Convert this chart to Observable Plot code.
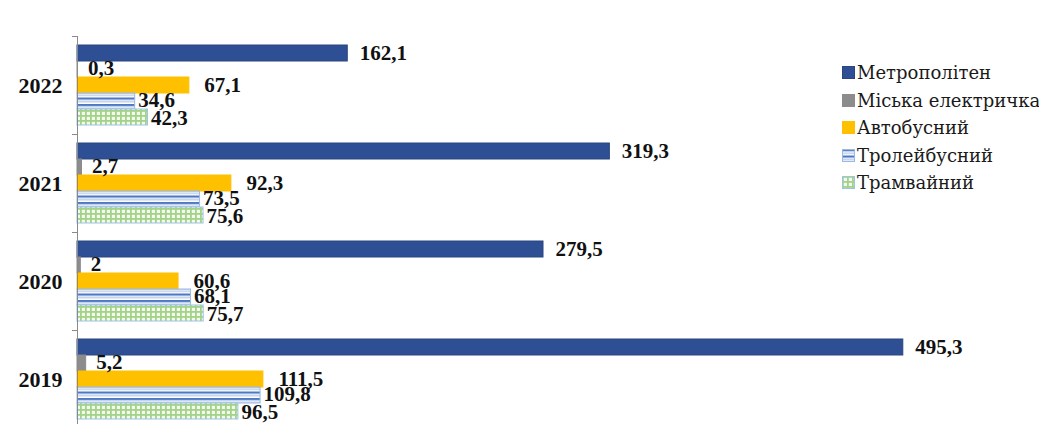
<!DOCTYPE html>
<html>
<head>
<meta charset="utf-8">
<script src="https://cdn.jsdelivr.net/npm/d3@7"></script>
<script src="https://cdn.jsdelivr.net/npm/@observablehq/plot@0.6"></script>
<style>
  body { margin: 0; background: #fff; }
  #wrap { position: relative; width: 1039px; height: 424px; }
</style>
</head>
<body>
<svg width="0" height="0" style="position:absolute">
  <defs>
    <pattern id="pTrolley" patternUnits="userSpaceOnUse" width="6" height="6.5">
      <rect width="6" height="6.5" fill="#ffffff"></rect>
      <rect y="0" width="6" height="2.2" fill="#4f78c4"></rect>
      <rect y="3.4" width="6" height="1.6" fill="#bcd0ee"></rect>
    </pattern>
    <pattern id="pTram" patternUnits="userSpaceOnUse" width="5" height="5">
      <rect width="5" height="5" fill="#f4faee"></rect>
      <rect x="0" width="1.8" height="5" fill="#a3d389"></rect>
      <rect y="0" width="5" height="1.8" fill="#a3d389"></rect>
    </pattern>
  </defs>
</svg>
<div id="wrap"></div>
<script>
const years = ["2022", "2021", "2020", "2019"];
const series = ["Метрополітен", "Міська електричка", "Автобусний", "Тролейбусний", "Трамвайний"];
const metro = [162.1, 319.3, 279.5, 495.3];
const electric = [0.3, 2.7, 2, 5.2];
const bus = [67.1, 92.3, 60.6, 111.5];
const trolley = [34.6, 73.5, 68.1, 109.8];
const tram = [42.3, 75.6, 75.7, 96.5];

const values = [metro, electric, bus, trolley, tram];
const fills = ["#2e4f93", "#8c8c8c", "#ffc000", "url(#pTrolley)", "url(#pTram)"];
const strokes = ["#2a4680", "#8c8c8c", "#ffc000", "#9db8e3", "#9dc3e6"];
const labelDx = [12, 10, 15, 3, 3];
const labelDy = [0, -1, 0, -1, 1];

const table = years.flatMap((yr, i) => series.map((s, j) => ({year: yr, series: s, value: values[j][i]})));
const fmt = v => String(v).replace(".", ",");

const W = 1039, ML = 77, MR = 45;
const marks = [];
series.forEach((s, j) => {
  const data = table.filter(d => d.series === s);
  marks.push(Plot.barX(data, {x: "value", y: "series", fy: "year", fill: fills[j], stroke: strokes[j], strokeWidth: 1}));
});
series.forEach((s, j) => {
  const data = table.filter(d => d.series === s);
  marks.push(Plot.text(data, {x: "value", y: "series", fy: "year", text: d => fmt(d.value), dx: labelDx[j], dy: labelDy[j], textAnchor: "start", fontWeight: "bold", fontSize: 21, fill: "#111"}));
});
marks.push(Plot.text(years, {fy: d => d, text: d => d, frameAnchor: "left", dx: -15, textAnchor: "end", fontWeight: "bold", fontSize: 22, fill: "#111"}));
marks.push(Plot.frame({anchor: "left", stroke: "#8a8a8a"}));
marks.push(Plot.frame({anchor: "top", stroke: "#8a8a8a", insetLeft: -5, insetRight: W - ML - MR}));

const chart = Plot.plot({
  width: W, height: 424,
  marginLeft: ML, marginRight: MR, marginTop: 36, marginBottom: -4,
  style: {fontFamily: "'Liberation Serif', serif", background: "#fff"},
  x: {domain: [0, 550], axis: null},
  y: {domain: series, axis: null, paddingInner: 0, paddingOuter: 0.42},
  fy: {domain: years, padding: 0, axis: null},
  marks
});
const wrap = document.getElementById("wrap");
wrap.appendChild(chart);

const legend = document.createElement("div");
legend.style.cssText = "position:absolute;left:842px;top:59px;font-family:'DejaVu Serif',serif;font-size:18px;color:#1a1a1a;";
series.forEach((s, j) => {
  const row = document.createElement("div");
  row.style.cssText = "display:flex;align-items:center;height:27.5px;white-space:nowrap;";
  row.innerHTML = `<svg width="13" height="13" style="margin-right:2px;flex:none"><rect x="0.5" y="0.5" width="12" height="12" fill="${fills[j]}" stroke="${strokes[j]}"></rect></svg><span>${s}</span>`;
  legend.appendChild(row);
});
wrap.appendChild(legend);
</script>
</body>
</html>
